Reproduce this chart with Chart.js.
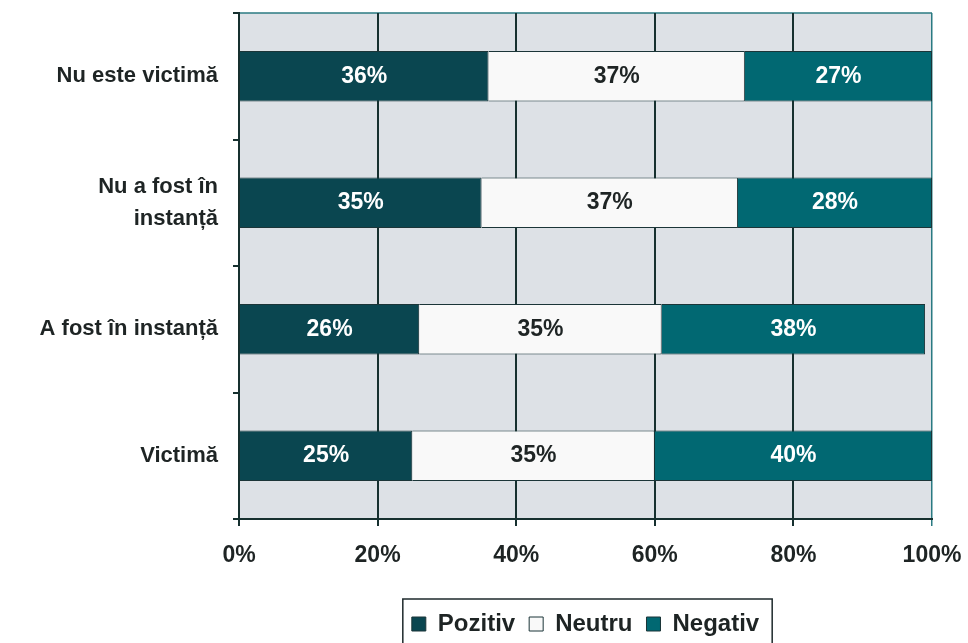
<!DOCTYPE html>
<html>
<head>
<meta charset="utf-8">
<script src="https://cdn.jsdelivr.net/npm/chart.js@4"></script>
<style>
html,body{margin:0;padding:0;background:#fff;}
#wrap{width:968px;height:643px;position:relative;}
</style>
</head>
<body>
<div id="wrap"><canvas id="c" width="968" height="643"></canvas></div>
<script>
const categories = [['Nu este victimă'], ['Nu a fost în', 'instanță'], ['A fost în instanță'], ['Victimă']];
const pozitiv = [36, 35, 26, 25];
const neutru = [37, 37, 35, 35];
const negativ = [27, 28, 38, 40];
const xTicks = [0, 20, 40, 60, 80, 100];

const FONT = "'Liberation Sans', Arial, sans-serif";
const TXT = '#1e2424';

const bgPlugin = {
  id: 'bg',
  afterLayout(chart) {
    const lg = chart.legend;
    if (lg) {
      lg.left = chart.chartArea.left;
      lg.right = chart.chartArea.right;
      lg.top += 3;
      lg.bottom += 3;
    }
  },
  beforeDraw(chart) {
    const {ctx, chartArea: a} = chart;
    ctx.save();
    ctx.fillStyle = '#dde1e6';
    ctx.fillRect(a.left, a.top, a.right - a.left, a.bottom - a.top);
    ctx.strokeStyle = '#2a7a82';
    ctx.lineWidth = 1.5;
    ctx.beginPath();
    ctx.moveTo(a.left, a.top);
    ctx.lineTo(a.right, a.top);
    ctx.stroke();
    ctx.restore();
  }
};

const labelPlugin = {
  id: 'barLabels',
  afterDatasetsDraw(chart) {
    const ctx = chart.ctx;
    ctx.save();
    ctx.font = "bold 23px " + FONT;
    ctx.textAlign = 'center';
    ctx.textBaseline = 'middle';
    chart.data.datasets.forEach((ds, di) => {
      const meta = chart.getDatasetMeta(di);
      meta.data.forEach((bar, i) => {
        const p = bar.getProps(['x', 'y', 'base'], true);
        const cx = (p.x + p.base) / 2;
        ctx.fillStyle = di === 1 ? TXT : '#ffffff';
        ctx.fillText(ds.data[i] + '%', cx, p.y);
      });
    });
    ctx.restore();
  }
};

const legendBox = {
  id: 'legendBox',
  afterDraw(chart) {
    const lg = chart.legend;
    if (!lg || !lg.legendHitBoxes || !lg.legendHitBoxes.length) return;
    const hb = lg.legendHitBoxes;
    const minX = Math.min(...hb.map(h => h.left));
    const maxX = Math.max(...hb.map(h => h.left + h.width));
    const ctx = chart.ctx;
    ctx.save();
    ctx.strokeStyle = '#1e2a2c';
    ctx.lineWidth = 1.5;
    const top = hb[0].top - 13;
    ctx.strokeRect(minX - 9, top, (maxX - minX) + 22, 643 - top + 10);
    ctx.restore();
  }
};

new Chart(document.getElementById('c'), {
  type: 'bar',
  data: {
    labels: categories,
    datasets: [
      {label: 'Pozitiv', data: pozitiv, backgroundColor: '#0a4650', borderColor: '#1b3538', borderWidth: 1},
      {label: 'Neutru', data: neutru, backgroundColor: '#f9f9f9', borderColor: '#1b3538', borderWidth: 1},
      {label: 'Negativ', data: negativ, backgroundColor: '#016872', borderColor: '#1b3538', borderWidth: 1}
    ]
  },
  options: {
    indexAxis: 'y',
    responsive: false,
    animation: false,
    devicePixelRatio: 1,
    layout: {padding: {top: 13, right: 36, left: 0, bottom: 0}},
    datasets: {bar: {categoryPercentage: 1, barPercentage: 0.4}},
    scales: {
      x: {
        stacked: true,
        min: 0, max: 100,
        afterBuildTicks(s) { s.ticks = xTicks.map(v => ({value: v})); },
        afterFit(s) { s.height = 76; s.paddingLeft = 0; s.paddingRight = 0; },
        ticks: {
          color: TXT,
          font: {family: FONT, size: 23, weight: 'bold'},
          padding: 16,
          callback: v => v + '%'
        },
        grid: {
          color: ctx => ctx.index === 5 ? '#2a7a82' : '#16302f',
          lineWidth: ctx => ctx.index === 5 ? 1.5 : 2,
          tickLength: 7
        },
        border: {color: '#16302f', width: 2}
      },
      y: {
        stacked: true,
        afterFit(s) { s.width = 239; s.paddingTop = 0; s.paddingBottom = 0; },
        ticks: {
          color: TXT,
          font: {family: FONT, size: 22, weight: 'bold', lineHeight: 1.45},
          padding: 15
        },
        grid: {drawOnChartArea: false, color: '#16302f', lineWidth: 2, tickLength: 6},
        border: {color: '#16302f', width: 2}
      }
    },
    plugins: {
      tooltip: {enabled: false},
      legend: {
        position: 'bottom',
        labels: {
          color: TXT,
          font: {family: FONT, size: 24, weight: 'bold'},
          boxWidth: 14, boxHeight: 14,
          padding: 14,
          useBorderRadius: false
        }
      }
    }
  },
  plugins: [bgPlugin, labelPlugin, legendBox]
});
</script>
</body>
</html>
